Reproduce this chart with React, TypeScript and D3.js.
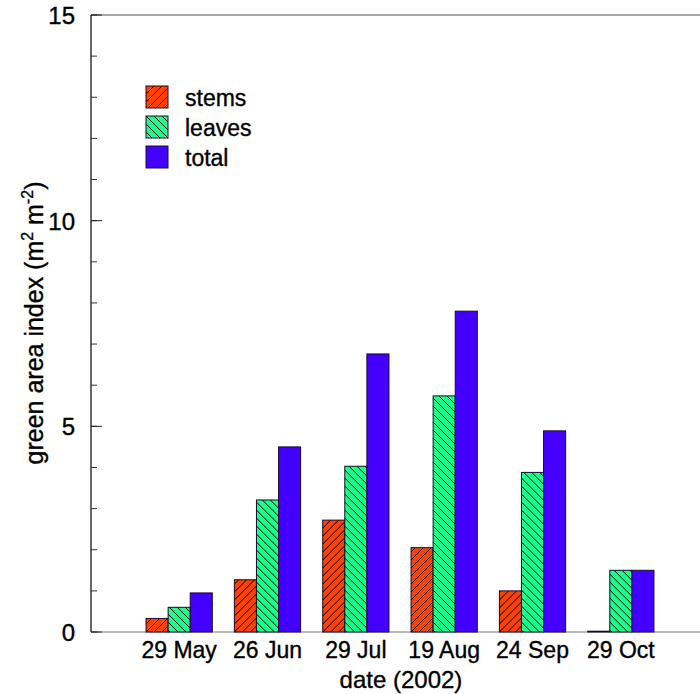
import React from "react";
import * as d3 from "d3";

const dates = ["29 May", "26 Jun", "29 Jul", "19 Aug", "24 Sep", "29 Oct"];
const stems = [0.33, 1.27, 2.72, 2.05, 1.0, 0.02];
const leaves = [0.6, 3.21, 4.03, 5.74, 3.88, 1.5];
const total = [0.95, 4.5, 6.76, 7.8, 4.89, 1.5];
const seriesNames = ["stems", "leaves", "total"];
const yTicks = [0, 5, 10, 15];
const yMinorTicks = d3.range(0, 16);

const W = 700;
const H = 694;
const left = 91;
const right = 700;
const top = 15;
const bottom = 632;
const font = "'Liberation Sans', Arial, Helvetica, sans-serif";
const textStyle = { fontFamily: font, fill: "#000", stroke: "#000", strokeWidth: 0.35 };

const colors = ["#ff4000", "#19ff8c", "#4400ff"];
const fills = ["url(#hatchStems)", "url(#hatchLeaves)", "#4400ff"];

export default function App() {
  const y = d3.scaleLinear().domain([0, 15]).range([bottom, top]);
  const x0 = d3.scaleBand().domain(dates).range([135, 665]).paddingInner(0.25).paddingOuter(0.125);
  const x1 = d3.scaleBand().domain(seriesNames).range([0, x0.bandwidth()]);
  const values = [stems, leaves, total];

  return (
    <svg width={W} height={H} style={{ display: "block", position: "absolute", left: 0, top: 0 }}>
      <defs>
        <pattern id="hatchStems" patternUnits="userSpaceOnUse" width="8" height="8">
          <rect width="8" height="8" fill={colors[0]} />
          <path d="M-2,2 L2,-2 M0,8 L8,0 M6,10 L10,6" stroke="#000" strokeWidth="1" />
        </pattern>
        <pattern id="hatchLeaves" patternUnits="userSpaceOnUse" width="8" height="8">
          <rect width="8" height="8" fill={colors[1]} />
          <path d="M-2,6 L2,10 M0,0 L8,8 M6,-2 L10,2" stroke="#000" strokeWidth="1" />
        </pattern>
      </defs>
      <rect width={W} height={H} fill="#fff" />

      {/* frame lines */}
      <line x1={left} x2={right} y1={top} y2={top} stroke="#555" strokeWidth={1} />
      <line x1={left} x2={right} y1={bottom} y2={bottom} stroke="#777" strokeWidth={1.2} />

      {/* bars */}
      {dates.map((d, i) => (
        <g key={d} transform={`translate(${x0(d)},0)`}>
          {seriesNames.map((s, k) => {
            const v = values[k][i];
            return (
              <rect
                key={s}
                x={x1(s)}
                y={y(v)}
                width={x1.bandwidth()}
                height={bottom - y(v)}
                fill={fills[k]}
                stroke="#1a0a30"
                strokeWidth={1}
              />
            );
          })}
        </g>
      ))}

      {/* y axis */}
      <line x1={left} x2={left} y1={top} y2={bottom} stroke="#000" strokeWidth={1.2} />
      {yMinorTicks.map((t) => (
        <line key={t} x1={left} x2={left + 6} y1={y(t)} y2={y(t)} stroke="#333" strokeWidth={1} />
      ))}
      {yTicks.map((t) => (
        <line key={"M" + t} x1={left} x2={left + 11} y1={y(t)} y2={y(t)} stroke="#222" strokeWidth={1} />
      ))}
      {yTicks.map((t) => (
        <text key={"L" + t} x={75} y={y(t) + 9} textAnchor="end" fontSize={24} {...textStyle}>
          {t}
        </text>
      ))}

      {/* x labels */}
      {dates.map((d) => (
        <text
          key={d}
          x={(x0(d) as number) + x0.bandwidth() / 2}
          y={658}
          textAnchor="middle"
          fontSize={23}
          {...textStyle}
        >
          {d}
        </text>
      ))}
      <text x={401} y={688} textAnchor="middle" fontSize={24} {...textStyle}>
        date (2002)
      </text>
      <text
        transform={`translate(43,${323}) rotate(-90)`}
        textAnchor="middle"
        fontSize={25}
        {...textStyle}
      >
        green area index (m
        <tspan dy={-10} fontSize={16}>2</tspan>
        <tspan dy={10}> m</tspan>
        <tspan dy={-10} fontSize={16}>-2</tspan>
        <tspan dy={10}>)</tspan>
      </text>

      {/* legend */}
      {seriesNames.map((s, k) => (
        <g key={s} transform={`translate(146,${86 + k * 30})`}>
          <rect width={22} height={22} fill={fills[k]} stroke="#1a0a30" strokeWidth={1} />
          <text x={39} y={20} fontSize={23} {...textStyle}>
            {s}
          </text>
        </g>
      ))}
    </svg>
  );
}
